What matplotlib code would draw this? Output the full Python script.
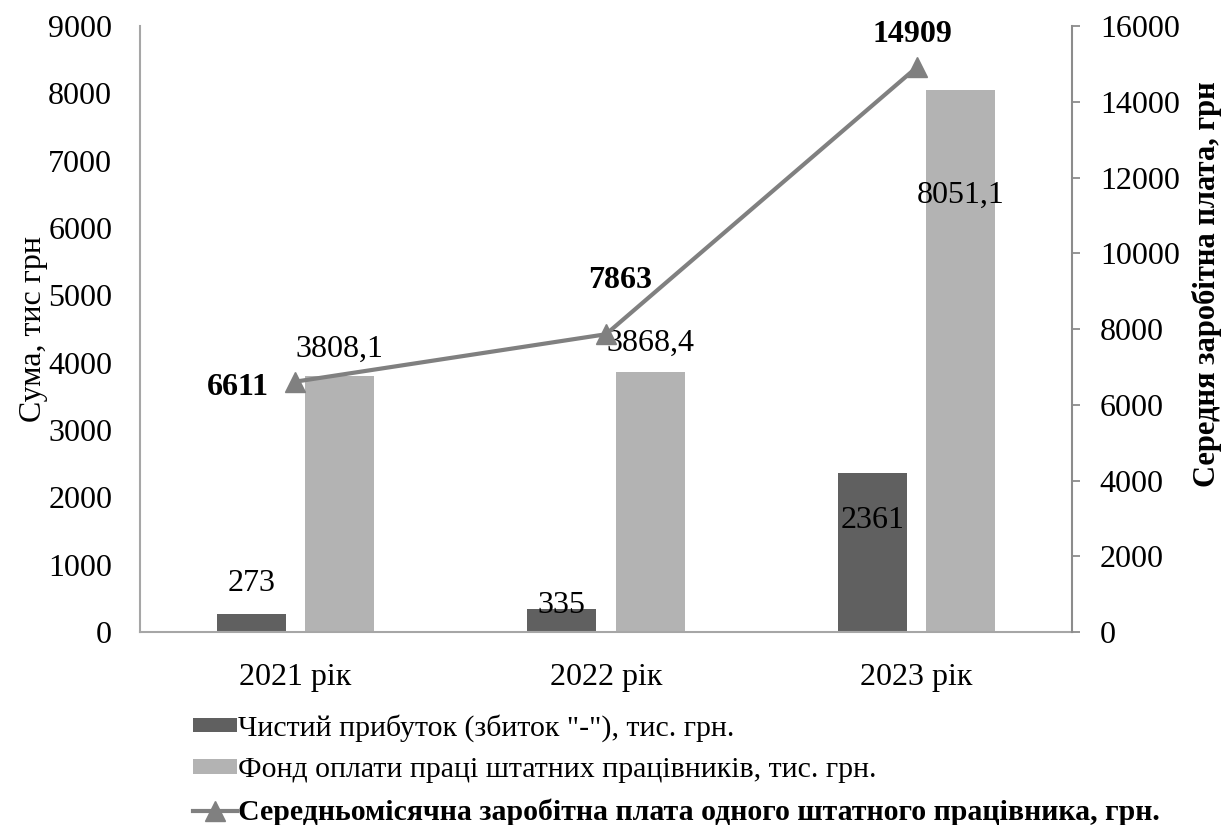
import matplotlib.pyplot as plt
import numpy as np

plt.rcParams['font.family'] = ['Liberation Serif', 'DejaVu Serif']

# Data
years = ["2021 рік", "2022 рік", "2023 рік"]
profit = [273, 335, 2361]
payroll = [3808.1, 3868.4, 8051.1]
avg_salary = [6611, 7863, 14909]

profit_labels = ["273", "335", "2361"]
payroll_labels = ["3808,1", "3868,4", "8051,1"]

legend_names = [
    'Чистий прибуток (збиток "-"), тис. грн.',
    "Фонд оплати праці штатних працівників, тис. грн.",
    "Середньомісячна заробітна плата одного штатного працівника, грн.",
]

# label offsets in pixels from the top of each mark
profit_off = [30, 4, -47]
payroll_off = [26, 28, -105]
salary_off = [(-57, -6), (14, 54), (-4, 33)]

dark = "#606060"
light = "#b3b3b3"
line_col = "#808080"
fs = 23

fig = plt.figure(figsize=(12.26, 8.25), dpi=100)
ax = fig.add_axes([0.1142, 0.2339, 0.7602, 0.7345])
ax2 = ax.twinx()

x = np.arange(len(years))
w = 0.2226
off = 0.142

b1 = ax.bar(x - off, profit, w, color=dark, label=legend_names[0], zorder=2)
b2 = ax.bar(x + off, payroll, w, color=light, label=legend_names[1], zorder=2)

ax.set_xlim(-0.5, 2.5)
ax.set_ylim(0, 9000)
ax.set_yticks(range(0, 9001, 1000))
ax.set_xticks(x)
ax.set_xticklabels(years)
ax.tick_params(axis="both", length=0, labelsize=fs)
ax.tick_params(axis="y", pad=20)
ax.tick_params(axis="x", pad=22)
ax.set_ylabel("Сума, тис грн", fontsize=fs, labelpad=0)

for s in ["top", "right"]:
    ax.spines[s].set_visible(False)
ax.spines["left"].set_color("#a6a6a6")
ax.spines["bottom"].set_color("#a6a6a6")
ax.spines["left"].set_linewidth(1.5)
ax.spines["bottom"].set_linewidth(1.5)

for i in range(len(years)):
    ax.annotate(profit_labels[i], (x[i] - off, profit[i]),
                xytext=(0, profit_off[i]), textcoords="offset pixels",
                ha="center", va="center", fontsize=fs, zorder=4)
    ax.annotate(payroll_labels[i], (x[i] + off, payroll[i]),
                xytext=(0, payroll_off[i]), textcoords="offset pixels",
                ha="center", va="center", fontsize=fs, zorder=4)

# average salary line on the right axis
ln, = ax2.plot(x, avg_salary, color=line_col, lw=3, marker="^",
               markersize=14, label=legend_names[2], zorder=5)
ax2.set_ylim(0, 16000)
ax2.set_yticks(range(0, 16001, 2000))
ax2.tick_params(axis="y", labelsize=fs, length=6, width=1.3,
                color="#8c8c8c", direction="out", pad=14)
ax2.set_ylabel("Середня заробітна плата, грн", fontsize=22,
               fontweight="bold", labelpad=9)
ax2.yaxis.label.set_y(0.574)
for s in ["top", "left", "bottom"]:
    ax2.spines[s].set_visible(False)
ax2.spines["right"].set_color("#8c8c8c")
ax2.spines["right"].set_linewidth(1.5)

for i in range(len(years)):
    ax2.annotate(str(avg_salary[i]), (x[i], avg_salary[i]),
                 xytext=salary_off[i], textcoords="offset pixels",
                 ha="center", va="center", fontsize=fs, fontweight="bold")

leg = fig.legend(handles=[b1, b2, ln], loc="upper left",
                 bbox_to_anchor=(193 / 1226, 1 - 714 / 825),
                 frameon=False, fontsize=21.5, handlelength=1.47,
                 handleheight=0.37, handletextpad=0.05, labelspacing=0.52,
                 borderpad=0, borderaxespad=0)
leg.get_texts()[2].set_fontweight("bold")

fig.savefig("out.png", dpi=100)
